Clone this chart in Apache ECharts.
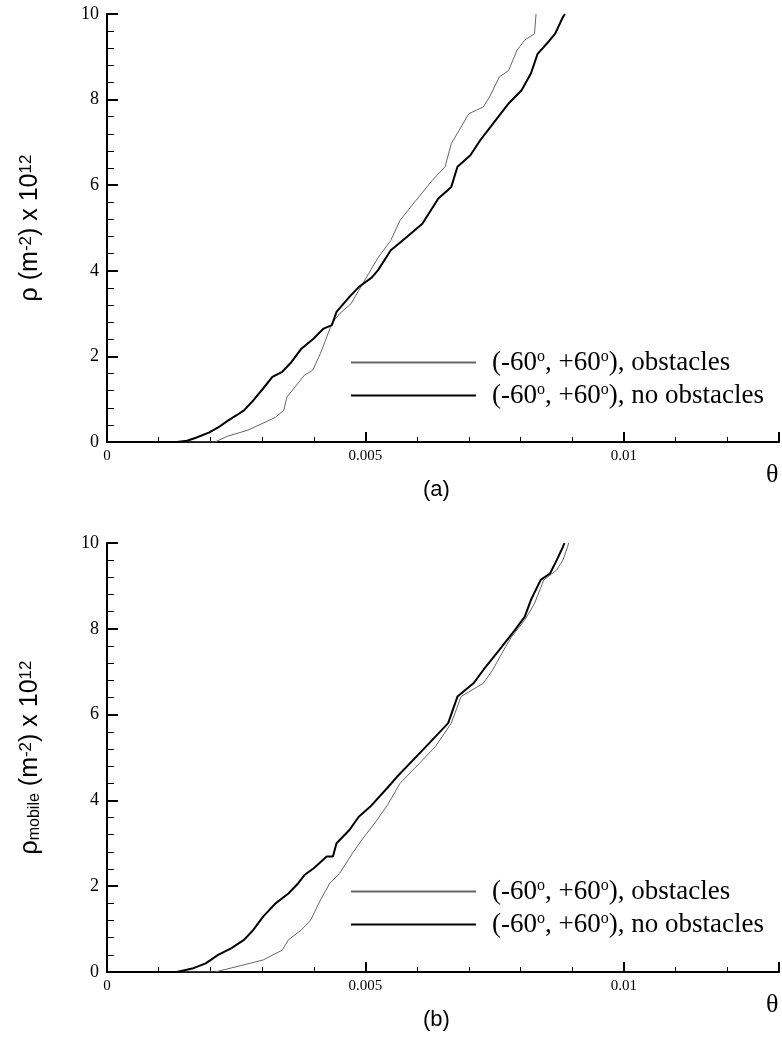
<!DOCTYPE html>
<html>
<head>
<meta charset="utf-8">
<script src="https://cdn.jsdelivr.net/npm/echarts@6.0.0/dist/echarts.min.js"></script>
<style>
  html, body { margin: 0; padding: 0; background: #fff; }
  #chart { width: 782px; height: 1038px; }
</style>
</head>
<body>
<div id="chart"></div>
<script>
// theta, rho pairs
var panelA_noObstacles = [
  [0, 0], [0.00135, 0], [0.00155, 0.03], [0.00172, 0.1], [0.00197, 0.22], [0.00215, 0.34],
  [0.00234, 0.5], [0.0025, 0.62], [0.00265, 0.74], [0.00283, 0.97], [0.00302, 1.25],
  [0.0032, 1.52], [0.00339, 1.64], [0.00357, 1.87], [0.00376, 2.18], [0.004, 2.42],
  [0.00419, 2.65], [0.00435, 2.73], [0.00444, 3.04], [0.00469, 3.39], [0.00487, 3.62],
  [0.00512, 3.84], [0.00524, 4.01], [0.00549, 4.48], [0.0058, 4.79], [0.0061, 5.1],
  [0.00641, 5.69], [0.00666, 5.96], [0.00678, 6.43], [0.00703, 6.7], [0.00722, 7.05],
  [0.00752, 7.52], [0.00777, 7.91], [0.00802, 8.22], [0.0082, 8.61], [0.00833, 9.07],
  [0.00851, 9.31], [0.00867, 9.54], [0.00882, 9.93], [0.00886, 10]
];
var panelA_obstacles = [
  [0, 0], [0.00209, 0], [0.00234, 0.14], [0.00271, 0.27], [0.00302, 0.44], [0.00326, 0.58],
  [0.00342, 0.74], [0.00348, 1.05], [0.00364, 1.29], [0.00382, 1.56], [0.00398, 1.68],
  [0.00413, 2.07], [0.00425, 2.45], [0.00435, 2.77], [0.0045, 3.0], [0.00472, 3.23],
  [0.00487, 3.54], [0.00506, 3.93], [0.00524, 4.3], [0.00549, 4.71], [0.00567, 5.18],
  [0.00598, 5.65], [0.00629, 6.11], [0.00654, 6.43], [0.00666, 6.97], [0.00685, 7.36],
  [0.007, 7.67], [0.00728, 7.83], [0.0074, 8.06], [0.00759, 8.53], [0.00777, 8.68],
  [0.00793, 9.15], [0.00808, 9.39], [0.00827, 9.54], [0.0083, 10]
];
var panelB_noObstacles = [
  [0, 0], [0.00135, 0], [0.00165, 0.08], [0.00191, 0.2], [0.00215, 0.4], [0.0024, 0.55],
  [0.00265, 0.75], [0.00283, 0.98], [0.00302, 1.29], [0.00326, 1.6], [0.00351, 1.83],
  [0.0037, 2.07], [0.00382, 2.26], [0.004, 2.42], [0.00425, 2.69], [0.00437, 2.69],
  [0.00444, 3.0], [0.00469, 3.31], [0.00487, 3.62], [0.00509, 3.85], [0.00543, 4.3],
  [0.00561, 4.55], [0.00592, 4.94], [0.00623, 5.33], [0.0066, 5.8], [0.00678, 6.42],
  [0.00709, 6.73], [0.00728, 7.04], [0.00759, 7.51], [0.00789, 7.97], [0.00808, 8.28],
  [0.0082, 8.67], [0.00839, 9.14], [0.00857, 9.29], [0.0087, 9.6], [0.00882, 9.91], [0.00885, 10]
];
var panelB_obstacles = [
  [0, 0], [0.00209, 0], [0.00259, 0.15], [0.00302, 0.28], [0.00339, 0.51], [0.00351, 0.75],
  [0.00376, 0.98], [0.00394, 1.21], [0.00413, 1.68], [0.00431, 2.07], [0.0045, 2.3],
  [0.00475, 2.77], [0.00493, 3.08], [0.00518, 3.47], [0.00543, 3.9], [0.00567, 4.4],
  [0.00604, 4.86], [0.00635, 5.25], [0.00666, 5.8], [0.00685, 6.42], [0.00728, 6.73],
  [0.00746, 7.04], [0.00771, 7.58], [0.00783, 7.82], [0.00808, 8.2], [0.00827, 8.59],
  [0.00845, 9.14], [0.0087, 9.37], [0.00882, 9.6], [0.00891, 9.91], [0.00893, 10]
];

var xLabelValues = [0, 0.005, 0.01];
var xLabelTexts = ['0', '0.005', '0.01'];
var legendTexts = {
  'a-obs': '(-60{s|o}, +60{s|o}), obstacles',
  'a-free': '(-60{s|o}, +60{s|o}), no obstacles',
  'b-obs': '(-60{s|o}, +60{s|o}), obstacles',
  'b-free': '(-60{s|o}, +60{s|o}), no obstacles'
};

var serif = 'Liberation Serif';
var sans = 'Liberation Sans';

function minorX(g) {
  return {
    gridIndex: g, type: 'value', min: 0, max: 0.013, interval: 0.001, position: 'bottom',
    axisLine: { show: true, lineStyle: { color: '#000', width: 2 } },
    axisTick: { show: true, inside: true, length: 5, lineStyle: { color: '#000', width: 1 } },
    axisLabel: { show: false },
    splitLine: { show: false }
  };
}
function majorX(g) {
  return {
    gridIndex: g, type: 'value', min: 0, max: 0.013, interval: 0.005, position: 'bottom',
    axisLine: { show: false },
    axisTick: { show: true, inside: true, length: 10, lineStyle: { color: '#000', width: 2 } },
    axisLabel: {
      margin: 7, color: '#000', fontFamily: serif, fontSize: 15,
      formatter: function (v) {
        for (var i = 0; i < xLabelValues.length; i++) {
          if (Math.abs(v - xLabelValues[i]) < 1e-9) return xLabelTexts[i];
        }
        return '';
      }
    },
    splitLine: { show: false }
  };
}
function yAx(g, name) {
  return {
    gridIndex: g, type: 'value', min: 0, max: 10, interval: 2,
    axisLine: { show: true, lineStyle: { color: '#000', width: 2 } },
    axisTick: { show: true, inside: true, length: 11, lineStyle: { color: '#000', width: 2 } },
    minorTick: { show: true, splitNumber: 5, length: 7, lineStyle: { color: '#000', width: 1 } },
    axisLabel: { margin: 8, color: '#000', fontFamily: serif, fontSize: 18 },
    splitLine: { show: false },
    name: name, nameLocation: 'middle', nameRotate: 90, nameGap: 64,
    nameTextStyle: {
      fontFamily: sans, fontSize: 25, color: '#000',
      rich: {
        sup: { fontFamily: sans, fontSize: 17, lineHeight: 14, color: '#000', verticalAlign: 'top' },
        sub: { fontFamily: sans, fontSize: 16, lineHeight: 14, color: '#000', verticalAlign: 'bottom' }
      }
    }
  };
}
function legendFor(names, top) {
  return {
    data: names, orient: 'vertical', left: 345, top: top,
    itemWidth: 125, itemHeight: 20, itemGap: 6, selectedMode: false,
    itemStyle: { opacity: 0 },
    formatter: function (n) { return legendTexts[n]; },
    textStyle: {
      fontFamily: serif, fontSize: 27, color: '#000', padding: [0, 0, 0, 11],
      rich: { s: { fontFamily: serif, fontSize: 16, lineHeight: 12, color: '#000', verticalAlign: 'top' } }
    }
  };
}
function curve(name, data, g, xi, color, width) {
  return {
    name: name, type: 'line', data: data, xAxisIndex: xi, yAxisIndex: g,
    symbol: 'none', silent: true, animation: false,
    lineStyle: { color: color, width: width }
  };
}

var chart = echarts.init(document.getElementById('chart'));

option = {
  backgroundColor: '#fff',
  animation: false,
  grid: [
    { left: 107, top: 14, width: 701, height: 428 },
    { left: 107, top: 543, width: 701, height: 429 }
  ],
  xAxis: [minorX(0), majorX(0), minorX(1), majorX(1)],
  yAxis: [
    yAx(0, 'ρ (m{sup|-2}) x 10{sup|12}'),
    yAx(1, 'ρ{sub|mobile} (m{sup|-2}) x 10{sup|12}')
  ],
  legend: [
    legendFor(['a-obs', 'a-free'], 344),
    legendFor(['b-obs', 'b-free'], 873)
  ],
  series: [
    curve('a-obs', panelA_obstacles, 0, 0, '#666', 1),
    curve('a-free', panelA_noObstacles, 0, 0, '#000', 2),
    curve('b-obs', panelB_obstacles, 1, 2, '#666', 1),
    curve('b-free', panelB_noObstacles, 1, 2, '#000', 2)
  ],
  graphic: [
    { type: 'text', left: 766, top: 462, style: { text: 'θ', font: '26px "Liberation Serif"', fill: '#000' } },
    { type: 'text', left: 766, top: 992, style: { text: 'θ', font: '26px "Liberation Serif"', fill: '#000' } },
    { type: 'text', left: 423, top: 479, style: { text: '(a)', font: '22px "Liberation Sans"', fill: '#000' } },
    { type: 'text', left: 423, top: 1009, style: { text: '(b)', font: '22px "Liberation Sans"', fill: '#000' } }
  ]
};

chart.setOption(option);
</script>
</body>
</html>
